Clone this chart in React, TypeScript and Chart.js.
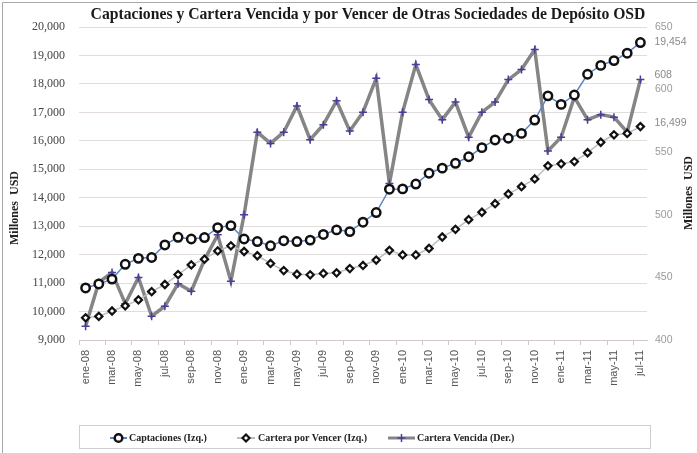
import React, { useEffect, useRef } from 'react';
import { Chart, registerables } from 'chart.js';

Chart.register(...registerables);

const TITLE = 'Captaciones y Cartera Vencida y por Vencer de Otras Sociedades de Depósito OSD';
const AXIS_TITLE = 'Millones  USD';

const categories = [
  'ene-08', 'feb-08', 'mar-08', 'abr-08', 'may-08', 'jun-08', 'jul-08', 'ago-08', 'sep-08', 'oct-08', 'nov-08', 'dic-08',
  'ene-09', 'feb-09', 'mar-09', 'abr-09', 'may-09', 'jun-09', 'jul-09', 'ago-09', 'sep-09', 'oct-09', 'nov-09', 'dic-09',
  'ene-10', 'feb-10', 'mar-10', 'abr-10', 'may-10', 'jun-10', 'jul-10', 'ago-10', 'sep-10', 'oct-10', 'nov-10', 'dic-10',
  'ene-11', 'feb-11', 'mar-11', 'abr-11', 'may-11', 'jun-11', 'jul-11',
];

const captaciones = [
  10830, 10970, 11140, 11660, 11870, 11900, 12340, 12610, 12550, 12600, 12950, 13020,
  12550, 12460, 12310, 12490, 12460, 12510, 12710, 12870, 12810, 13140, 13480, 14300,
  14310, 14480, 14860, 15040, 15210, 15440, 15760, 16030, 16090, 16260, 16730, 17580,
  17280, 17610, 18340, 18650, 18820, 19080, 19454,
];

const carteraPorVencer = [
  9780, 9830, 10020, 10200, 10410, 10700, 10950, 11300, 11640, 11840, 12130, 12310,
  12110, 11960, 11690, 11440, 11310, 11290, 11340, 11360, 11510, 11620, 11810, 12150,
  11990, 11990, 12220, 12620, 12890, 13230, 13490, 13790, 14130, 14390, 14660, 15120,
  15190, 15270, 15580, 15950, 16210, 16260, 16499,
];

const carteraVencida = [
  411, 446, 454, 429, 450, 419, 427, 445, 439, 464, 484, 447,
  500, 566, 557, 566, 587, 560, 572, 591, 567, 582, 609, 525,
  582, 620, 592, 576, 590, 562, 582, 590, 608, 616, 632, 551,
  562, 594, 576, 580, 578, 566, 608,
];

const seriesNames = ['Captaciones (Izq.)', 'Cartera por Vencer (Izq.)', 'Cartera Vencida (Der.)'];

const leftMin = 9000;
const leftMax = 20000;
const leftStep = 1000;
const rightMin = 400;
const rightMax = 650;
const rightStep = 50;

const fmt = (v: number) => String(Math.round(v)).replace(/\B(?=(\d{3})+(?!\d))/g, ',');

const BLUE = '#5a86c8';
const GREY_LINE = '#bdbdbd';
const VENCIDA_LINE = '#858585';
const PLUS = '#4a3d9a';
const GRID = '#e3dcdc';
const AXIS = '#d2c6c6';

function drawCircle(ctx: CanvasRenderingContext2D, x: number, y: number, r: number) {
  ctx.beginPath();
  ctx.arc(x, y, r, 0, Math.PI * 2);
  ctx.fillStyle = '#fff';
  ctx.fill();
  ctx.lineWidth = 2.5;
  ctx.strokeStyle = '#111';
  ctx.stroke();
}

function drawDiamond(ctx: CanvasRenderingContext2D, x: number, y: number, r: number) {
  ctx.beginPath();
  ctx.moveTo(x, y - r);
  ctx.lineTo(x + r, y);
  ctx.lineTo(x, y + r);
  ctx.lineTo(x - r, y);
  ctx.closePath();
  ctx.fillStyle = '#fff';
  ctx.fill();
  ctx.lineWidth = 2.2;
  ctx.strokeStyle = '#111';
  ctx.stroke();
}

const decorPlugin = {
  id: 'decor',
  afterDraw(chart: any) {
    const ctx: CanvasRenderingContext2D = chart.ctx;
    const W = chart.width;
    const H = chart.height;
    ctx.save();

    // frame (top and left edges)
    ctx.strokeStyle = '#a8a8a8';
    ctx.lineWidth = 1;
    ctx.beginPath();
    ctx.moveTo(2.5, H);
    ctx.lineTo(2.5, 2.5);
    ctx.lineTo(W, 2.5);
    ctx.stroke();

    // title
    ctx.font = 'bold 15.7px "Liberation Serif"';
    ctx.fillStyle = '#1a1a1a';
    ctx.textAlign = 'center';
    ctx.textBaseline = 'middle';
    ctx.fillText(TITLE, 368, 15);

    // axis titles
    ctx.font = 'bold 12px "Liberation Serif"';
    ctx.fillStyle = '#222';
    ctx.save();
    ctx.translate(15, 208);
    ctx.rotate(-Math.PI / 2);
    ctx.fillText(AXIS_TITLE, 0, 0);
    ctx.restore();
    ctx.save();
    ctx.translate(689, 193);
    ctx.rotate(-Math.PI / 2);
    ctx.fillText(AXIS_TITLE, 0, 0);
    ctx.restore();

    // last value labels
    ctx.font = '10.5px "Liberation Sans"';
    ctx.fillStyle = '#8a8a8a';
    ctx.textAlign = 'left';
    const dataSets = [captaciones, carteraPorVencer, carteraVencida];
    const offsets = [0, -4, -4];
    dataSets.forEach((arr, i) => {
      const meta = chart.getDatasetMeta(i);
      const last = meta.data[arr.length - 1];
      if (!last) return;
      ctx.fillText(fmt(arr[arr.length - 1]), last.x + 14, last.y + offsets[i]);
    });

    // legend
    const lx = 79.5, ly = 425.5, lw = 571, lh = 23;
    ctx.strokeStyle = '#cfcfcf';
    ctx.lineWidth = 1;
    ctx.strokeRect(lx, ly, lw, lh);
    const cy = ly + lh / 2 + 1;
    ctx.font = 'bold 10px "Liberation Serif"';
    ctx.fillStyle = '#222';
    ctx.textBaseline = 'middle';

    // item 1
    ctx.strokeStyle = BLUE;
    ctx.lineWidth = 2;
    ctx.beginPath();
    ctx.moveTo(110, cy);
    ctx.lineTo(127, cy);
    ctx.stroke();
    drawCircle(ctx, 118.5, cy, 3.8);
    ctx.fillStyle = '#222';
    ctx.fillText(seriesNames[0], 129, cy);

    // item 2
    ctx.strokeStyle = GREY_LINE;
    ctx.lineWidth = 2;
    ctx.beginPath();
    ctx.moveTo(237, cy);
    ctx.lineTo(255, cy);
    ctx.stroke();
    drawDiamond(ctx, 246, cy, 3.5);
    ctx.fillStyle = '#222';
    ctx.fillText(seriesNames[1], 258, cy);

    // item 3
    ctx.strokeStyle = VENCIDA_LINE;
    ctx.lineWidth = 3;
    ctx.beginPath();
    ctx.moveTo(388, cy);
    ctx.lineTo(415, cy);
    ctx.stroke();
    ctx.strokeStyle = PLUS;
    ctx.lineWidth = 1.5;
    ctx.beginPath();
    ctx.moveTo(397.5, cy);
    ctx.lineTo(405.5, cy);
    ctx.moveTo(401.5, cy - 4);
    ctx.lineTo(401.5, cy + 4);
    ctx.stroke();
    ctx.fillStyle = '#222';
    ctx.fillText(seriesNames[2], 417, cy);

    ctx.restore();
  },
};

export default function App() {
  const canvasRef = useRef<HTMLCanvasElement | null>(null);

  useEffect(() => {
    const canvas = canvasRef.current;
    if (!canvas) return;
    const chart = new Chart(canvas, {
      type: 'line',
      data: {
        labels: categories,
        datasets: [
          {
            label: seriesNames[0],
            data: captaciones,
            yAxisID: 'y',
            borderColor: BLUE,
            borderWidth: 1.5,
            pointStyle: 'circle',
            pointRadius: 4.2,
            pointBorderWidth: 2.5,
            pointBorderColor: '#111',
            pointBackgroundColor: '#fff',
            tension: 0,
          },
          {
            label: seriesNames[1],
            data: carteraPorVencer,
            yAxisID: 'y',
            borderColor: GREY_LINE,
            borderWidth: 1.5,
            pointStyle: 'rectRot',
            pointRadius: 3.6,
            pointBorderWidth: 2.2,
            pointBorderColor: '#111',
            pointBackgroundColor: '#fff',
            tension: 0,
          },
          {
            label: seriesNames[2],
            data: carteraVencida,
            yAxisID: 'y1',
            borderColor: VENCIDA_LINE,
            borderWidth: 3.5,
            pointStyle: 'cross',
            pointRadius: 4,
            pointBorderWidth: 1.5,
            pointBorderColor: PLUS,
            pointBackgroundColor: PLUS,
            tension: 0,
          },
        ],
      },
      options: {
        responsive: false,
        animation: false,
        devicePixelRatio: 1,
        layout: { padding: { top: 27, left: 0, right: 0, bottom: 63 } },
        plugins: {
          legend: { display: false },
          title: { display: false },
          tooltip: { enabled: false },
        },
        scales: {
          x: {
            type: 'category',
            offset: true,
            grid: {
              display: true,
              offset: true,
              drawOnChartArea: false,
              drawTicks: true,
              tickLength: 5,
              color: (c: any) => (c.index !== undefined && c.index % 2 === 0 ? AXIS : 'rgba(0,0,0,0)'),
            },
            border: { display: true, color: AXIS, width: 1 },
            ticks: {
              autoSkip: false,
              minRotation: 90,
              maxRotation: 90,
              padding: 5,
              color: '#555',
              font: { family: 'Liberation Sans', size: 11 },
              callback: (_v: any, i: number) => (i % 2 === 0 ? categories[i] : ''),
            },
            afterFit: (s: any) => {
              s.height = 50;
            },
          },
          y: {
            position: 'left',
            min: leftMin,
            max: leftMax,
            ticks: {
              stepSize: leftStep,
              padding: 14,
              color: '#444',
              font: { family: 'Liberation Serif', size: 12 },
              callback: (v: any) => fmt(Number(v)),
            },
            grid: { color: GRID, drawTicks: false, lineWidth: 1 },
            border: { display: false },
            afterFit: (s: any) => {
              s.width = 79;
            },
          },
          y1: {
            position: 'right',
            min: rightMin,
            max: rightMax,
            ticks: {
              stepSize: rightStep,
              padding: 8,
              color: '#9a9a9a',
              font: { family: 'Liberation Sans', size: 10.5 },
            },
            grid: { display: false, drawTicks: false },
            border: { display: false },
            afterFit: (s: any) => {
              s.width = 50;
            },
          },
        },
      },
      plugins: [decorPlugin],
    } as any);
    return () => chart.destroy();
  }, []);

  return (
    <div style={{ position: 'absolute', left: 0, top: 0, width: 697, height: 453, background: '#fff' }}>
      <canvas ref={canvasRef} width={697} height={453} style={{ display: 'block' }} />
    </div>
  );
}
